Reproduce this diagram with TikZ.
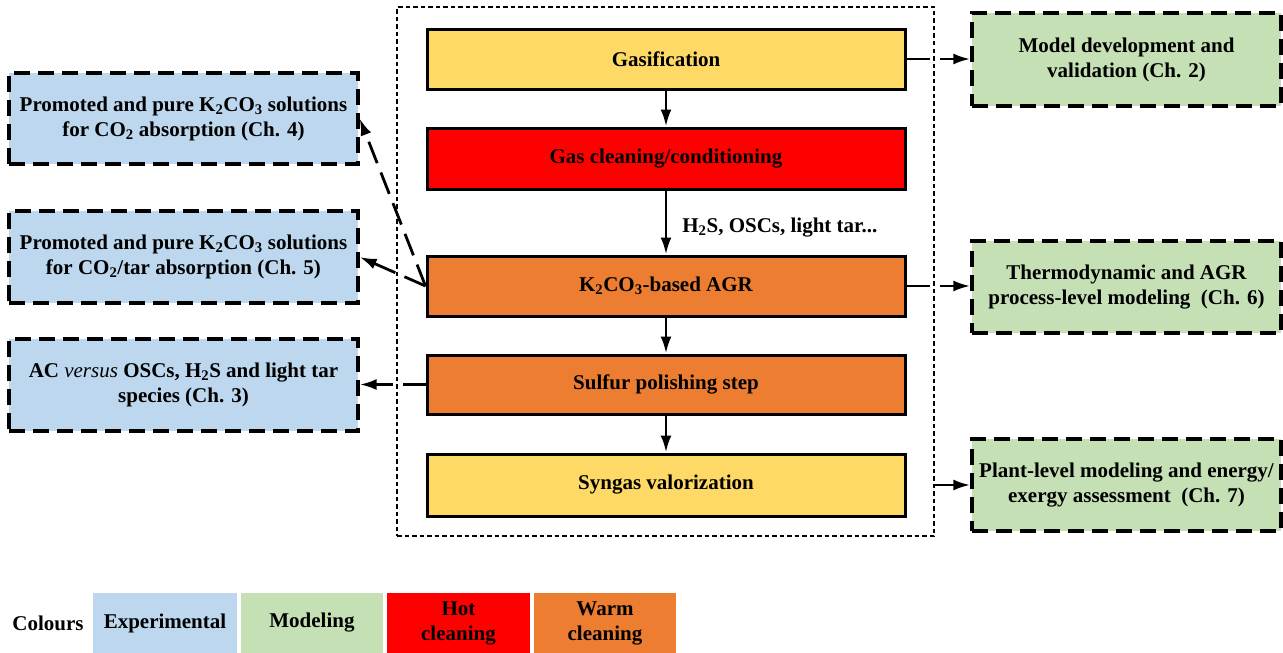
\documentclass[tikz,border=0pt]{standalone}
\usepackage{fontspec}
\setmainfont{Liberation Serif}
\usetikzlibrary{arrows.meta}
\definecolor{cyellow}{HTML}{FFD966}
\definecolor{cred}{HTML}{FF0000}
\definecolor{corange}{HTML}{ED7D31}
\definecolor{cblue}{HTML}{BDD7EE}
\definecolor{cgreen}{HTML}{C5E0B4}
\begin{document}
\begin{tikzpicture}[x=1pt,y=-1pt,
 every node/.style={font=\fontsize{21}{25}\selectfont\bfseries, align=center, inner sep=0pt},
 stage/.style={draw=black, line width=3pt, minimum width=478pt, minimum height=60pt},
 chbox/.style={draw=black, line width=3.3pt, dash pattern=on 16pt off 8pt, minimum height=92pt},
 leftbox/.style={chbox, fill=cblue, minimum width=349pt},
 rightbox/.style={chbox, fill=cgreen, minimum width=309pt},
 flow/.style={line width=2.8pt, -{Latex[length=17pt,width=11pt]}},
 dflow/.style={flow, dash pattern=on 23pt off 10pt},
 legbox/.style={minimum width=143pt, minimum height=60pt},
]
\useasboundingbox (0,0) rectangle (1283,653);

% outer dotted frame
\node[draw=black, line width=2.3pt, dash pattern=on 4.5pt off 3pt,
      minimum width=537pt, minimum height=529pt] (outer) at (665.5,271.5) {};

% process chain
\node[stage, fill=cyellow] (gas) at (666,59) {Gasification};
\node[stage, fill=cred, minimum height=61pt] (clean) at (666,158.5) {Gas cleaning/conditioning};
\node[stage, fill=corange] (agr) at (666,286) {K\textsubscript{2}CO\textsubscript{3}-based AGR};
\node[stage, fill=corange, minimum height=59pt] (sulf) at (666,384.5) {Sulfur polishing step};
\node[stage, fill=cyellow, minimum height=62pt] (syn) at (666,485) {Syngas valorization};

% experimental boxes
\node[leftbox, minimum height=91pt] (ch4) at (183.5,118.5)
  {Promoted and pure K\textsubscript{2}CO\textsubscript{3} solutions\\for CO\textsubscript{2} absorption (Ch. 4)};
\node[leftbox] (ch5) at (183.5,257)
  {Promoted and pure K\textsubscript{2}CO\textsubscript{3} solutions\\for CO\textsubscript{2}/tar absorption (Ch. 5)};
\node[leftbox] (ch3) at (183.5,385)
  {AC {\mdseries\itshape versus} OSCs, H\textsubscript{2}S and light tar\\species (Ch. 3)};

% modeling boxes
\node[rightbox, minimum height=93pt] (model) at (1126.5,59.5)
  {Model development and\\validation (Ch. 2)};
\node[rightbox] (thermo) at (1126.5,287)
  {Thermodynamic and AGR\\process-level modeling~~(Ch. 6)};
\node[rightbox] (plant) at (1126.5,485)
  {Plant-level modeling and energy/\\exergy assessment~~(Ch. 7)};

% chain arrows
\draw[flow] (gas) -- (clean);
\draw[flow] (clean) -- node[pos=0.58, anchor=west, xshift=15pt] (lbl) {H\textsubscript{2}S, OSCs, light tar...} (agr);
\draw[flow] (agr) -- (sulf);
\draw[flow] (sulf) -- (syn);

% side arrows
\draw[dflow] (agr.west) -- (ch4.east);
\draw[dflow] (agr.west) -- (ch5.east);
\draw[dflow] (sulf.west) -- (sulf.west -| ch3.east);
\draw[dflow] (gas.east) -- (gas.east -| model.west);
\draw[dflow] (agr.east) -- (agr.east -| thermo.west);
\draw[flow] (outer.east |- syn.east) -- (syn.east -| plant.west);

% legend
\node (colours) at (48,623) {Colours};
\node[legbox, fill=cblue, minimum width=144pt] (lexp) at (165,623) {Experimental};
\node[legbox, fill=cgreen, minimum width=142pt] (lmod) at (312,623) {Modeling};
\node[legbox, fill=cred] (lhot) at (458.5,623) {Hot\\cleaning};
\node[legbox, fill=corange, minimum width=142pt] (lwarm) at (605,623) {Warm\\cleaning};
\end{tikzpicture}
\end{document}
